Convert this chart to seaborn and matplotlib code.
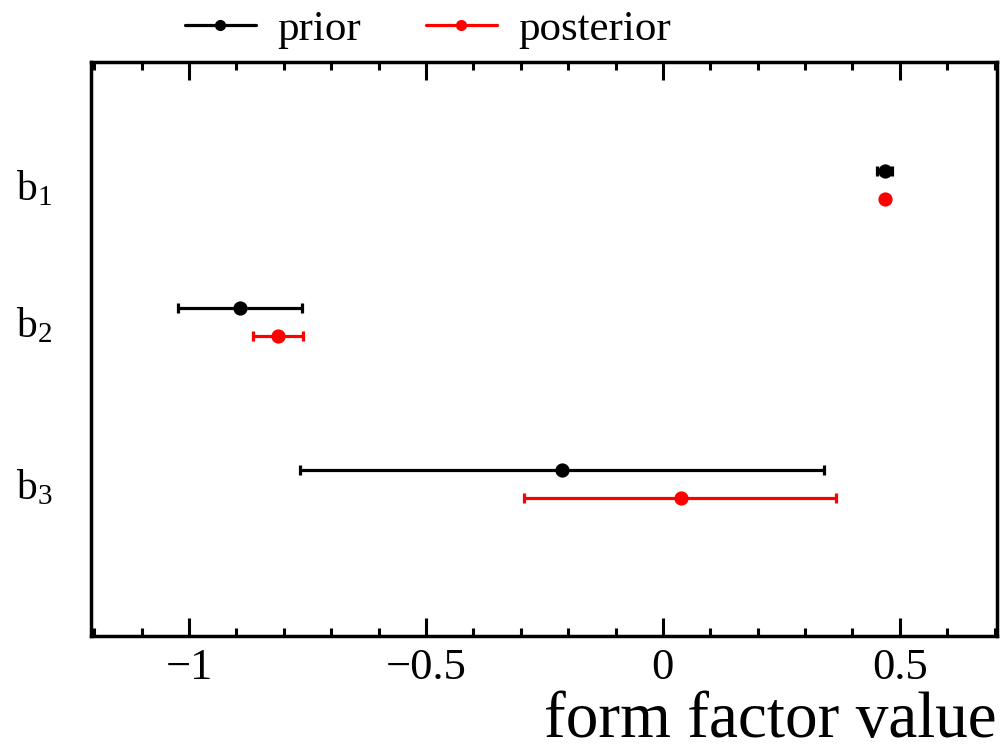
import matplotlib
matplotlib.use("Agg")
import matplotlib.pyplot as plt
from matplotlib.lines import Line2D
from matplotlib.ticker import MultipleLocator
import numpy as np
import pandas as pd
import seaborn as sns

# Form factor parameters
params = ["b_1", "b_2", "b_3"]
row_pos = [1.0, 2.0, 3.18]

prior_center = [0.468, -0.892, -0.213]
prior_lo = [0.452, -1.023, -0.766]
prior_hi = [0.484, -0.762, 0.340]

post_center = [0.468, -0.812, 0.038]
post_lo = [0.466, -0.865, -0.293]
post_hi = [0.470, -0.760, 0.366]

sns.set_theme(style="ticks")
plt.rcParams["font.family"] = ["Liberation Serif", "DejaVu Serif"]
plt.rcParams["mathtext.fontset"] = "custom"
plt.rcParams["mathtext.rm"] = "Liberation Serif"
plt.rcParams["mathtext.it"] = "Liberation Serif:italic"
plt.rcParams["text.color"] = "black"
plt.rcParams["axes.labelcolor"] = "black"
plt.rcParams["xtick.color"] = "black"
plt.rcParams["ytick.color"] = "black"

fig = plt.figure(figsize=(10.03, 7.54), dpi=100)
ax = fig.add_axes([0.0907, 0.1565, 0.9033, 0.7615])

offset = 0.1
series = [
    ("prior", "black", prior_center, prior_lo, prior_hi, -offset),
    ("posterior", "red", post_center, post_lo, post_hi, offset),
]

for name, color, c, lo, hi, off in series:
    c = np.array(c)
    y = np.array(row_pos) + off
    xerr = np.vstack([c - np.array(lo), np.array(hi) - c])
    ax.errorbar(c, y, xerr=xerr, fmt="none", ecolor=color, elinewidth=2.3,
                capsize=3.5, capthick=2.3, zorder=2)
    df = pd.DataFrame({"value": c, "pos": y})
    sns.scatterplot(data=df, x="value", y="pos", color=color, s=105,
                    edgecolor=color, linewidth=0, ax=ax, zorder=3, legend=False)

ax.set_xlim(-1.207, 0.705)
ax.set_ylim(4.29, 0.10)

ax.xaxis.set_minor_locator(MultipleLocator(0.1))
ax.set_xticks([-1, -0.5, 0, 0.5])
ax.set_xticklabels(["\u22121", "\u22120.5", "0", "0.5"])
ax.tick_params(axis="x", which="major", direction="in", length=13, width=2.2,
               top=True, bottom=True, labelsize=32, pad=9)
ax.tick_params(axis="x", which="minor", direction="in", length=6, width=2.2,
               top=True, bottom=True)

ax.set_yticks(row_pos)
ax.set_yticklabels([r"$\mathrm{%s}$" % p for p in params])
ax.tick_params(axis="y", which="both", length=0, labelsize=30, pad=28)

for s in ax.spines.values():
    s.set_linewidth(2.5)
    s.set_color("black")

ax.set_xlabel("form factor value", fontsize=47, loc="right", labelpad=2)
ax.set_ylabel("")

handles = [
    Line2D([], [], color="black", lw=2.3, marker="o", markersize=7),
    Line2D([], [], color="red", lw=2.3, marker="o", markersize=7),
]
ax.legend(handles, ["prior", "posterior"], loc="lower center",
          bbox_to_anchor=(0.372, 0.988), ncol=2, frameon=False, fontsize=31,
          handlelength=1.65, columnspacing=1.5, handletextpad=0.5,
          borderaxespad=0.05)

fig.savefig("out.png", dpi=100)
